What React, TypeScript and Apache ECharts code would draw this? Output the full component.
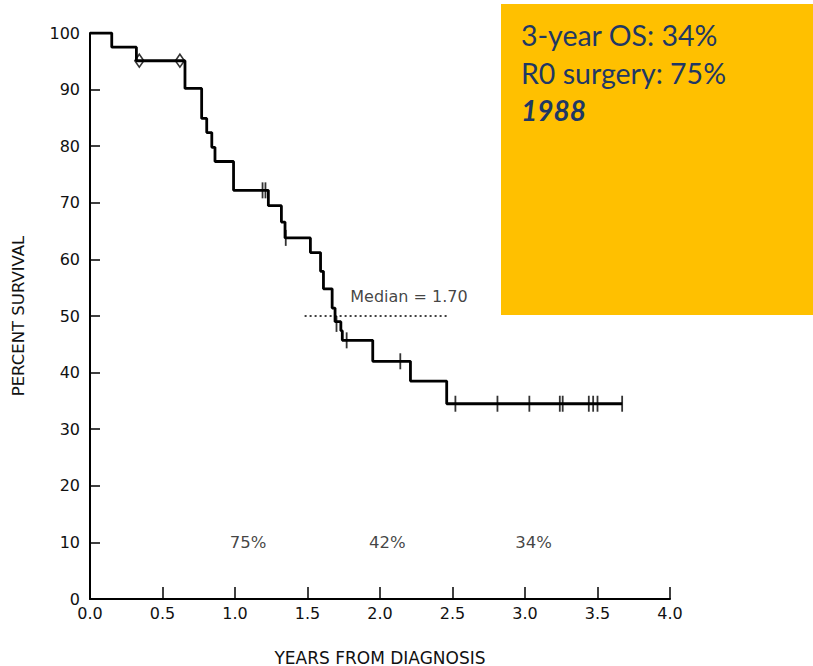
import React, { useEffect, useRef } from "react";
import * as echarts from "echarts";

// Kaplan-Meier curve (years, percent survival)
const eventTimes = [0, 0.15, 0.32, 0.655, 0.77, 0.805, 0.84, 0.862, 0.99, 1.23, 1.32, 1.345, 1.52, 1.59, 1.61, 1.67, 1.69, 1.73, 1.74, 1.95, 2.21, 2.46, 3.67];
const survival = [100, 97.5, 95.1, 90.2, 84.9, 82.4, 79.8, 77.3, 72.2, 69.5, 66.6, 63.8, 61.2, 57.9, 54.8, 51.4, 49.0, 47.4, 45.7, 42.0, 38.5, 34.5, 34.5];

// censored observations
const censorTickTimes = [1.19, 1.21, 1.35, 1.70, 1.77, 2.14, 2.52, 2.81, 3.03, 3.24, 3.26, 3.44, 3.47, 3.50, 3.67];
const censorTickValues = [72.2, 72.2, 63.8, 48.6, 45.7, 42.0, 34.5, 34.5, 34.5, 34.5, 34.5, 34.5, 34.5, 34.5, 34.5];
const censorDiamondTimes = [0.34, 0.62];
const censorDiamondValues = [95.1, 95.1];

// median reference
const medianX = [1.48, 2.46];
const medianY = [50, 50];
const medianLabel = "Median = 1.70";
const medianLabelPos = [2.2, 53.4];

// yearly survival annotations
const annotTimes = [1.09, 2.05, 3.06];
const annotValues = [10, 10, 10];
const annotTexts = ["75%", "42%", "34%"];

const xTicks = ["0.0", "0.5", "1.0", "1.5", "2.0", "2.5", "3.0", "3.5", "4.0"];

const boxLines = ["3-year OS: 34%", "R0 surgery: 75%", "1988"];

export default function App() {
  const ref = useRef<HTMLDivElement>(null);
  useEffect(() => {
    if (!ref.current) return;
    const chart = echarts.init(ref.current, null, { renderer: "svg" });
    const font = "'DejaVu Sans', sans-serif";
    const boxFont = "Lato, sans-serif";
    const option = {
      animation: false,
      backgroundColor: "#ffffff",
      grid: { left: 90, right: 143, top: 33, bottom: 67, containLabel: false, outerBoundsMode: "none" },
      xAxis: {
        type: "value",
        min: 0,
        max: 4,
        interval: 0.5,
        name: "YEARS FROM DIAGNOSIS",
        nameLocation: "middle",
        nameGap: 50,
        nameTextStyle: { fontFamily: font, fontSize: 17, color: "#111" },
        axisLine: { lineStyle: { color: "#000", width: 2 } },
        axisTick: { inside: true, length: 12, lineStyle: { color: "#000", width: 1.5 } },
        axisLabel: {
          fontFamily: font,
          fontSize: 16,
          color: "#111",
          margin: 6,
          formatter: (v: number) => xTicks[Math.round(v / 0.5)] ?? v.toFixed(1),
        },
        splitLine: { show: false },
      },
      yAxis: {
        type: "value",
        min: 0,
        max: 100,
        interval: 10,
        name: "PERCENT SURVIVAL",
        nameLocation: "middle",
        nameGap: 63,
        nameTextStyle: { fontFamily: font, fontSize: 16.5, color: "#111" },
        axisLine: { show: true, lineStyle: { color: "#000", width: 2 } },
        axisTick: { show: true, inside: true, length: 10, lineStyle: { color: "#000", width: 1.5 } },
        axisLabel: { fontFamily: font, fontSize: 16, color: "#111", margin: 10 },
        splitLine: { show: false },
      },
      series: [
        {
          type: "line",
          step: "end",
          data: eventTimes.map((t, i) => [t, survival[i]]),
          symbol: "none",
          lineStyle: { color: "#000", width: 2.8 },
          z: 3,
        },
        {
          type: "scatter",
          data: censorTickTimes.map((t, i) => [t, censorTickValues[i]]),
          symbol: "rect",
          symbolSize: [1.8, 16],
          itemStyle: { color: "#000" },
          z: 4,
        },
        {
          type: "scatter",
          data: censorDiamondTimes.map((t, i) => [t, censorDiamondValues[i]]),
          symbol: "diamond",
          symbolSize: [9, 13],
          itemStyle: { color: "rgba(0,0,0,0)", borderColor: "#000", borderWidth: 1.6 },
          z: 4,
        },
        {
          type: "line",
          data: medianX.map((x, i) => [x, medianY[i]]),
          symbol: "none",
          lineStyle: { color: "#000", width: 1.5, type: [2, 3] },
          z: 2,
        },
        {
          type: "scatter",
          data: [medianLabelPos],
          symbolSize: 0,
          label: {
            show: true,
            position: "inside",
            formatter: medianLabel,
            fontFamily: font,
            fontSize: 16,
            color: "#111",
          },
          z: 5,
        },
        {
          type: "scatter",
          data: annotTimes.map((t, i) => ({ value: [t, annotValues[i]], name: annotTexts[i] })),
          symbolSize: 0,
          label: {
            show: true,
            position: "inside",
            formatter: (p: any) => p.name,
            fontFamily: font,
            fontSize: 16.5,
            color: "#111",
          },
          z: 5,
        },
      ],
      graphic: [
        {
          type: "rect",
          shape: { x: 501, y: 4, width: 312, height: 311 },
          style: { fill: "#FFC000" },
          z: 100,
        },
        {
          type: "text",
          x: 521,
          y: 35,
          z: 101,
          style: { text: boxLines[0], fontFamily: boxFont, fontSize: 28.5, fill: "#1F3864", verticalAlign: "middle" },
        },
        {
          type: "text",
          x: 521,
          y: 73,
          z: 101,
          style: { text: boxLines[1], fontFamily: boxFont, fontSize: 28.5, fill: "#1F3864", verticalAlign: "middle" },
        },
        {
          type: "text",
          x: 521,
          y: 110,
          z: 101,
          style: {
            text: boxLines[2],
            fontFamily: boxFont,
            fontSize: 28,
            fontWeight: "bold",
            fontStyle: "italic",
            fill: "#1F3864",
            verticalAlign: "middle",
          },
        },
      ],
    };
    chart.setOption(option as any);
    return () => chart.dispose();
  }, []);
  return <div ref={ref} style={{ width: 813, height: 666, position: "absolute", left: 0, top: 0 }} />;
}
